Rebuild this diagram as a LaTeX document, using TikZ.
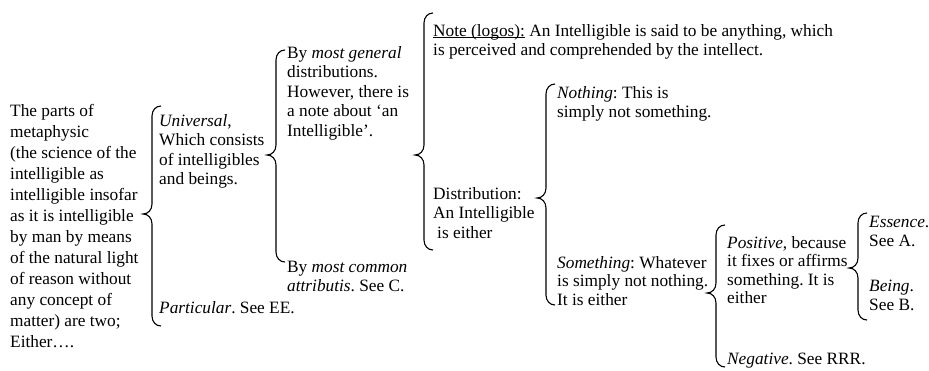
\documentclass[tikz,border=0pt]{standalone}
\usepackage{fontspec}
\setmainfont{Liberation Serif}
\frenchspacing
\newcommand\tb[2]{\vtop{\baselineskip=#1pt\lineskiplimit=-30pt\lineskip=0pt\halign{##\hfil\cr#2\crcr}}}
\newcommand\myul[1]{\setbox0=\hbox{#1}\rlap{\rule[-2.2pt]{\wd0}{0.9pt}}\box0\relax}
\newcommand\wbrace[4]{\draw[bracepath] (#1+9,#2) .. controls (#1+4,#2) and (#1,#2+4) .. (#1,#2+10) -- (#1,#3-10) .. controls (#1,#3-4) and (#1-4,#3) .. (#1-9,#3) .. controls (#1-4,#3) and (#1,#3+4) .. (#1,#3+10) -- (#1,#4-10) .. controls (#1,#4-4) and (#1+4,#4) .. (#1+9,#4);}
\begin{document}
\begin{tikzpicture}[x=1pt,y=-1pt,
  txt/.style={anchor=base west,inner sep=0pt,font=\fontsize{17.3}{19.5}\selectfont},
  bracepath/.style={draw=black,line width=1.1pt}]
\useasboundingbox (0,0) rectangle (929,370);
\node[txt] (parts) at (10,116) {\tb{21}{The parts of\cr metaphysic\cr (the science of the\cr intelligible as\cr intelligible insofar\cr as it is intelligible\cr by man by means\cr of the natural light\cr of reason without\cr any concept of\cr matter) are two;\cr Either….}};
\wbrace{152}{106}{214}{326}
\node[txt] (universal) at (159,126) {\tb{19.5}{\textit{Universal},\cr Which consists\cr of intelligibles\cr and beings.}};
\node[txt] (particular) at (159,313) {\textit{Particular}. See EE.};
\wbrace{276}{50}{155}{262}
\node[txt] (general) at (287,58) {\tb{19.5}{By \textit{most general}\cr distributions.\cr However, there is\cr a note about ‘an\cr Intelligible’.}};
\node[txt] (common) at (287,272) {\tb{19.5}{By \textit{most common}\cr \textit{attributis}. See C.}};
\wbrace{424}{13}{155}{250}
\node[txt] (note) at (433,36) {\tb{19}{\myul{Note (logos):} An Intelligible is said to be anything, which\cr is perceived and comprehended by the intellect.}};
\node[txt] (distribution) at (433,199) {\tb{19.5}{Distribution:\cr An Intelligible\cr \kern4pt is either}};
\wbrace{546}{84}{198}{305}
\node[txt] (nothing) at (557,98) {\tb{19}{\textit{Nothing}: This is\cr simply not something.}};
\node[txt] (something) at (557,268) {\tb{18.5}{\textit{Something}: Whatever\cr is simply not nothing.\cr It is either}};
\wbrace{716}{225}{293}{367}
\node[txt] (positive) at (727,248) {\tb{18.5}{\textit{Positive}, because\cr it fixes or affirms\cr something. It is\cr either}};
\node[txt] (negative) at (727,364) {\textit{Negative}. See RRR.};
\wbrace{858}{213}{268}{320}
\node[txt] (essence) at (869,227) {\tb{19}{\textit{Essence}.\cr See A.}};
\node[txt] (being) at (869,291) {\tb{19}{\textit{Being}.\cr See B.}};
\end{tikzpicture}
\end{document}
